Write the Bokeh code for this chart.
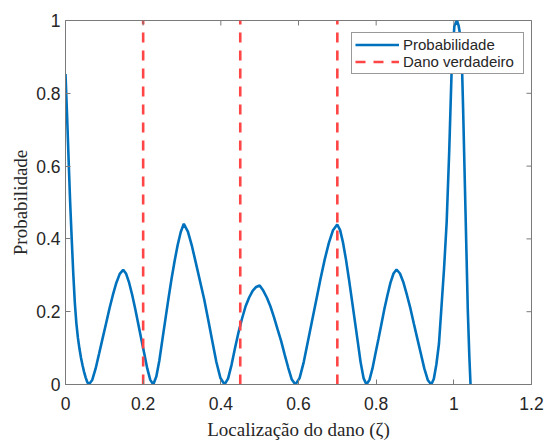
import math
from bokeh.plotting import figure
from bokeh.models import FixedTicker, Range1d, Legend, LegendItem
from bokeh.embed import file_html
from bokeh.resources import INLINE

# ---- data ----
zeta = [0.000, 0.004, 0.0086, 0.012, 0.016, 0.020, 0.024, 0.028, 0.032, 0.036,
        0.040, 0.044, 0.048, 0.052, 0.056, 0.060,
        0.0689, 0.0777, 0.0866, 0.0954, 0.1043, 0.1131, 0.1220, 0.1308, 0.1397, 0.1485,
        0.1562, 0.1640, 0.1718, 0.1795, 0.1873, 0.1950, 0.2028, 0.2105, 0.2183, 0.2260,
        0.2339, 0.2417, 0.2496, 0.2575, 0.2654, 0.2732, 0.2811, 0.2890, 0.2968, 0.3047,
        0.3152, 0.3257, 0.3361, 0.3466, 0.3571, 0.3676, 0.3781, 0.3885, 0.3990, 0.4095,
        0.4186, 0.4276, 0.4367, 0.4457, 0.4548, 0.4638, 0.4729, 0.4819, 0.4910, 0.5000,
        0.5092, 0.5184, 0.5276, 0.5368, 0.5460, 0.5552, 0.5644, 0.5736, 0.5828, 0.5920,
        0.6028, 0.6135, 0.6243, 0.6351, 0.6459, 0.6566, 0.6674, 0.6782, 0.6889, 0.6997,
        0.7072, 0.7148, 0.7223, 0.7298, 0.7374, 0.7449, 0.7524, 0.7599, 0.7675, 0.7750,
        0.7827, 0.7905, 0.7982, 0.8060, 0.8137, 0.8214, 0.8292, 0.8369, 0.8447, 0.8524,
        0.8613, 0.8703, 0.8792, 0.8882, 0.8971, 0.9060, 0.9150, 0.9239, 0.9329, 0.9418,
        0.9484, 0.9550, 0.9617, 0.9683, 0.9749, 0.9815, 0.9881, 0.9948, 1.0014, 1.0080,
        1.0125, 1.0160, 1.0190, 1.0215, 1.0240, 1.0300, 1.0360, 1.0400, 1.0430]
prob = [0.853, 0.74, 0.60, 0.50, 0.40, 0.305, 0.225, 0.168, 0.128, 0.098,
        0.073, 0.052, 0.034, 0.019, 0.007, 0.0,
        0.0126, 0.0441, 0.085, 0.126, 0.167, 0.208, 0.246, 0.279, 0.304, 0.315,
        0.304, 0.279, 0.246, 0.208, 0.167, 0.126, 0.085, 0.0441, 0.0126, 0.0,
        0.022, 0.066, 0.124, 0.181, 0.238, 0.291, 0.340, 0.384, 0.419, 0.4414,
        0.420, 0.380, 0.332, 0.283, 0.234, 0.177, 0.119, 0.0618, 0.0177, 0.0,
        0.016, 0.054, 0.101, 0.144, 0.182, 0.215, 0.239, 0.257, 0.268, 0.272,
        0.258, 0.239, 0.215, 0.185, 0.152, 0.120, 0.082, 0.046, 0.0136, 0.0,
        0.0176, 0.0615, 0.119, 0.176, 0.233, 0.290, 0.343, 0.389, 0.424, 0.4396,
        0.424, 0.389, 0.343, 0.290, 0.233, 0.176, 0.119, 0.0615, 0.0176, 0.0,
        0.0126, 0.0442, 0.0853, 0.126, 0.167, 0.209, 0.246, 0.280, 0.305, 0.316,
        0.305, 0.280, 0.246, 0.209, 0.167, 0.126, 0.0853, 0.0442, 0.0126, 0.0,
        0.015, 0.055, 0.112, 0.215, 0.32, 0.445, 0.64, 0.88, 0.985, 1.0,
        0.985, 0.962, 0.93, 0.855, 0.753, 0.478, 0.203, 0.075, 0.0]

true_damage = [0.2, 0.45, 0.7]

x_ticks = [0, 0.2, 0.4, 0.6, 0.8, 1.0, 1.2]
x_tick_labels = ["0", "0.2", "0.4", "0.6", "0.8", "1", "1.2"]
y_ticks = [0, 0.2, 0.4, 0.6, 0.8, 1.0]
y_tick_labels = ["0", "0.2", "0.4", "0.6", "0.8", "1"]
x_limits = (0, 1.2)
y_limits = (0, 1)

series_labels = ["Probabilidade", "Dano verdadeiro"]
x_title = "Localização do dano (ζ)"
y_title = "Probabilidade"

# ---- styling ----
BOX = "#7a7a7a"
TXT = "#262626"
BLUE = "#0072BD"
RED = "#FF4545"

p = figure(frame_width=466, frame_height=364, output_backend="svg",
           toolbar_location=None,
           x_range=Range1d(*x_limits), y_range=Range1d(*y_limits),
           min_border_left=65, min_border_right=16, min_border_top=20,
           min_border_bottom=57,
           x_axis_label=x_title, y_axis_label=y_title)
p.xgrid.visible = False
p.ygrid.visible = False
p.outline_line_color = BOX
p.outline_line_width = 1
p.background_fill_color = "white"
p.border_fill_color = "white"

r_curve = p.line(zeta, prob, line_color=BLUE, line_width=2.6)
r_true = p.segment(x0=true_damage, y0=[y_limits[0]] * len(true_damage),
                   x1=true_damage, y1=[y_limits[1]] * len(true_damage),
                   line_color=RED, line_width=2.6, line_dash="10 8")

# mirrored inward ticks on the top and right edges of the box
p.scatter(x=x_ticks, y=[y_limits[1]] * len(x_ticks), marker="dash",
          angle=math.pi / 2, size=10, line_color=BOX, line_width=1)
p.scatter(x=[x_limits[1]] * len(y_ticks), y=y_ticks, marker="dash",
          size=10, line_color=BOX, line_width=1)

x_ov = {t: s for t, s in zip(x_ticks, x_tick_labels)}
y_ov = {t: s for t, s in zip(y_ticks, y_tick_labels)}


def style_axis(ax, ticks, overrides, standoff):
    ax.ticker = FixedTicker(ticks=ticks)
    ax.major_label_overrides = overrides
    ax.major_tick_in = 5
    ax.major_tick_out = 0
    ax.minor_tick_line_color = None
    ax.axis_line_color = BOX
    ax.major_tick_line_color = BOX
    ax.major_label_text_font = "Liberation Sans"
    ax.major_label_text_font_size = "17.5px"
    ax.major_label_text_color = TXT
    ax.major_label_standoff = standoff
    ax.axis_label_text_font = "Liberation Serif"
    ax.axis_label_text_font_size = "19px"
    ax.axis_label_text_font_style = "normal"
    ax.axis_label_text_color = TXT


style_axis(p.xaxis[0], x_ticks, x_ov, 12)
style_axis(p.yaxis[0], y_ticks, y_ov, 5)
p.xaxis[0].axis_label_standoff = 6
p.yaxis[0].axis_label_standoff = 2

legend = Legend(items=[LegendItem(label=series_labels[0], renderers=[r_curve]),
                       LegendItem(label=series_labels[1], renderers=[r_true])],
                location=(286, 310), margin=0, padding=3, spacing=0,
                glyph_width=44, glyph_height=17, label_height=17,
                label_width=117,
                label_standoff=4, label_text_font="Liberation Sans",
                label_text_font_size="15px", label_text_color=TXT,
                border_line_color="#333333", border_line_width=1,
                background_fill_color="white", background_fill_alpha=1)
p.add_layout(legend)

open("out.html", "w").write(file_html(p, INLINE))
